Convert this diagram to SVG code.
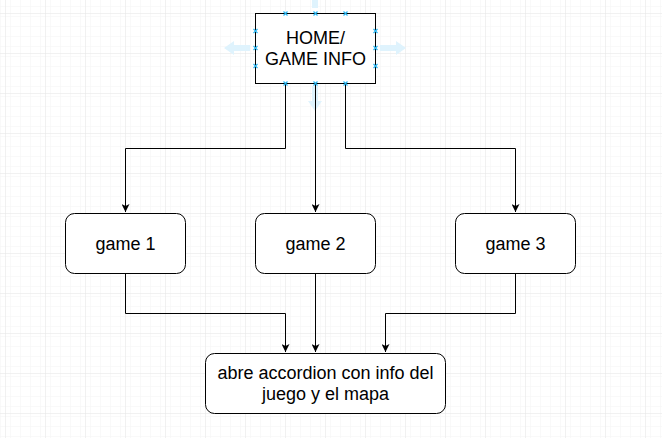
<svg xmlns="http://www.w3.org/2000/svg" width="662" height="438" viewBox="0 0 662 438">
<defs>
<pattern id="minor" width="10" height="10" patternUnits="userSpaceOnUse" x="5" y="3">
<path d="M0 0H10M0 0V10" fill="none" stroke="#f3f3f3" stroke-width="1"/>
</pattern>
<pattern id="major" width="40" height="40" patternUnits="userSpaceOnUse" x="5" y="13">
<rect width="40" height="40" fill="url(#minor)"/>
<path d="M0 0H40M0 0V40" fill="none" stroke="#e4e4e4" stroke-width="1"/>
</pattern>
<marker id="arr" viewBox="0 0 10 10" refX="10" refY="5" markerWidth="8" markerHeight="8" markerUnits="userSpaceOnUse" orient="auto">
<path d="M0 0L10 5L0 10L2.5 5Z" fill="#000"/>
</marker>
<g id="xm"><path d="M-2 -2L2 2M-2 2L2 -2" stroke="#29b6f2" stroke-width="1.2"/></g>
</defs>
<style>
.box{fill:#fff;stroke:#000;stroke-width:1}
.lbl{font-family:"Liberation Sans",Arial,sans-serif;font-size:18px;fill:#000;text-anchor:middle}
.edge{fill:none;stroke:#000;stroke-width:1;marker-end:url(#arr)}
.hint{fill:#dff3fd}
</style>
<rect width="662" height="438" fill="#fff"/>
<rect width="662" height="438" fill="url(#major)"/>
<g id="hover-hints">
<path class="hint" d="M224 48L234 41V45H250V51H234V55Z"/>
<path class="hint" d="M406 48L396 41V45H380V51H396V55Z"/>
<path class="hint" d="M315 111L308 101H312V86H318V101H322Z"/>
<path class="hint" d="M312 0H318V8H312Z"/>
</g>
<g id="connectors">
<path class="edge" d="M285.5 83V148.5H125.5V212"/>
<path class="edge" d="M315.5 83V212"/>
<path class="edge" d="M345.5 83V148.5H515.5V212"/>
<path class="edge" d="M125.5 273V313.5H285.5V352"/>
<path class="edge" d="M315.5 273V352"/>
<path class="edge" d="M515.5 273V313.5H385.5V352"/>
</g>
<g id="home">
<rect class="box" x="255.5" y="13.5" width="120" height="70"/>
<text class="lbl" x="315.5" y="43.5">HOME/</text>
<text class="lbl" x="315.5" y="64.5">GAME INFO</text>
<use href="#xm" x="285.5" y="13.5"/><use href="#xm" x="315.5" y="13.5"/><use href="#xm" x="345.5" y="13.5"/>
<use href="#xm" x="285.5" y="83.5"/><use href="#xm" x="315.5" y="83.5"/><use href="#xm" x="345.5" y="83.5"/>
<use href="#xm" x="255.5" y="31"/><use href="#xm" x="255.5" y="48"/><use href="#xm" x="255.5" y="66"/>
<use href="#xm" x="375.5" y="31"/><use href="#xm" x="375.5" y="48"/><use href="#xm" x="375.5" y="66"/>
</g>
<g id="game1">
<rect class="box" x="65.5" y="213.5" width="120" height="60" rx="9"/>
<text class="lbl" x="125.5" y="250">game 1</text>
</g>
<g id="game2">
<rect class="box" x="255.5" y="213.5" width="120" height="60" rx="9"/>
<text class="lbl" x="315.5" y="250">game 2</text>
</g>
<g id="game3">
<rect class="box" x="455.5" y="213.5" width="120" height="60" rx="9"/>
<text class="lbl" x="515.5" y="250">game 3</text>
</g>
<g id="result">
<rect class="box" x="205.5" y="353.5" width="240" height="60" rx="9"/>
<text class="lbl" x="325.5" y="379">abre accordion con info del</text>
<text class="lbl" x="325.5" y="400">juego y el mapa</text>
</g>
</svg>
